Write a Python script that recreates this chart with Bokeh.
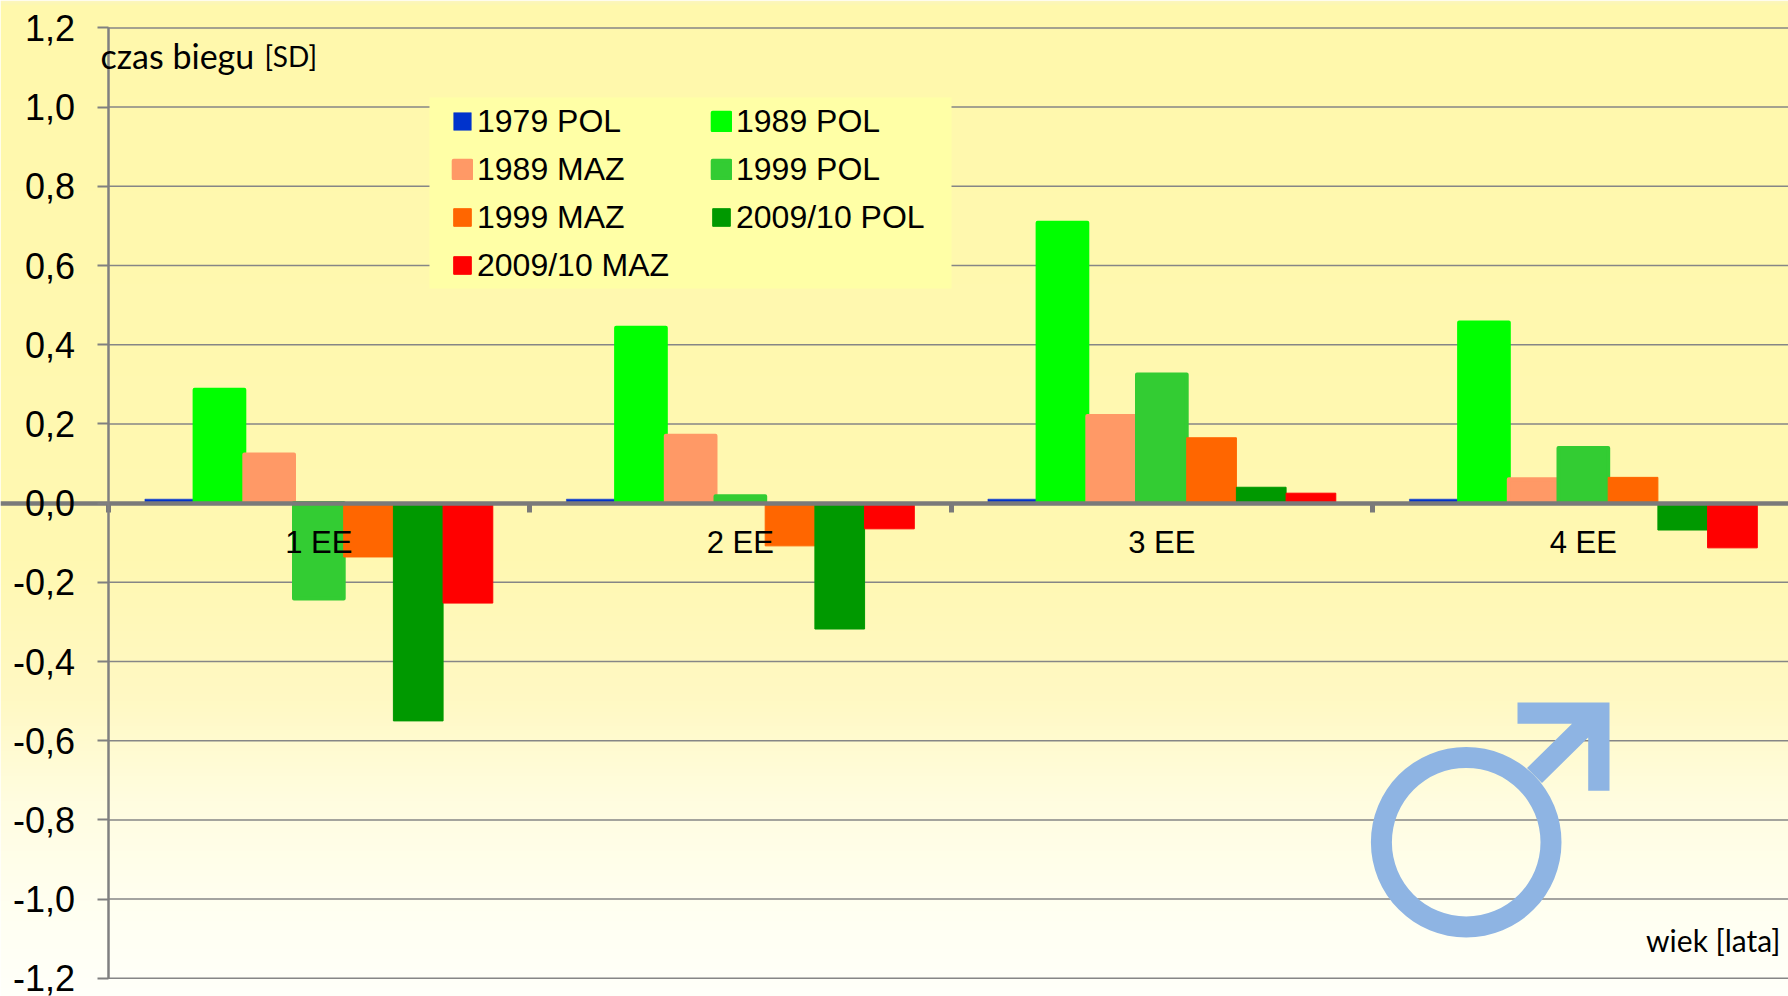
import numpy as np
from bokeh.embed import file_html
from bokeh.resources import INLINE
from bokeh.plotting import figure
from bokeh.models import LinearAxis, FixedTicker, Legend, LegendItem, Range1d, Label, ColumnDataSource

categories = ["1 EE", "2 EE", "3 EE", "4 EE"]
series_names = ["1979 POL", "1989 POL", "1989 MAZ", "1999 POL", "1999 MAZ", "2009/10 POL", "2009/10 MAZ"]
series_colors = ["#0033CC", "#00FF00", "#FF9966", "#33CC33", "#FF6600", "#009900", "#FF0000"]
series_border = [0.5, 4, 4, 4, 1, 1, 1]
v_1979_pol = [0.01, 0.01, 0.01, 0.01]
v_1989_pol = [0.286, 0.443, 0.708, 0.456]
v_1989_maz = [0.123, 0.170, 0.220, 0.060]
v_1999_pol = [-0.241, 0.017, 0.325, 0.139]
v_1999_maz = [-0.136, -0.108, 0.165, 0.065]
v_2009_pol = [-0.55, -0.318, 0.04, -0.068]
v_2009_maz = [-0.2525, -0.065, 0.025, -0.113]
series_values = [v_1979_pol, v_1989_pol, v_1989_maz, v_1999_pol, v_1999_maz, v_2009_pol, v_2009_maz]
y_ticks = [-1.2, -1.0, -0.8, -0.6, -0.4, -0.2, 0.0, 0.2, 0.4, 0.6, 0.8, 1.0, 1.2]
y_labels = ["-1,2", "-1,0", "-0,8", "-0,6", "-0,4", "-0,2", "0,0", "0,2", "0,4", "0,6", "0,8", "1,0", "1,2"]

W, H = 1788, 996
X0, PX_PER_CAT = 107.6, 421.5
Y0, PX_PER_UNIT = 502.6, 396.0


def dx(px):
    return (px - X0) / PX_PER_CAT


def dy(py):
    return (Y0 - py) / PX_PER_UNIT


p = figure(width=W, height=H, output_backend="svg", toolbar_location=None,
           x_range=Range1d(dx(0), dx(W)), y_range=Range1d(dy(H), dy(0)),
           x_axis_type=None, y_axis_type=None, min_border=0,
           outline_line_color=None, background_fill_color="#FFFFFF",
           border_fill_color="#FFFFFF")
p.grid.visible = False

# background gradient
stops_y = [0, 3, 5, 560, 700, 800, 900, 996]
stops_c = [(252, 246, 190), (252, 247, 180), (255, 249, 172), (255, 248, 178),
           (255, 249, 196), (255, 253, 224), (255, 255, 240), (255, 255, 250)]
rows = np.arange(H)
img = np.zeros((H, 1), dtype=np.uint32)
view = img.view(np.uint8).reshape((H, 1, 4))
for c in range(3):
    view[:, 0, c] = np.interp(H - 1 - rows, stops_y, [s[c] for s in stops_c]).astype(np.uint8)
view[:, 0, 3] = 255
p.image_rgba(image=[img], x=dx(0), y=dy(H), dw=dx(W) - dx(0), dh=dy(0) - dy(H), level="image")

# gridlines
grid_src = ColumnDataSource(dict(y=[t for t in y_ticks if t != 0.0]))
p.segment(x0=0, x1=dx(W), y0="y", y1="y", source=grid_src, line_color="#868686", line_width=1.5)

# legend panel
p.quad(left=dx(429), right=dx(951), top=dy(97), bottom=dy(288), fill_color="#FFFFA6", line_color=None)

# bars
bar_w = 0.1179
cat_centers = np.arange(len(categories)) + 0.5
renderers = []
for i, (vals, col, lw) in enumerate(zip(series_values, series_colors, series_border)):
    r = p.vbar(x=cat_centers + (i - 3) * bar_w, top=vals, bottom=0, width=bar_w,
               fill_color=col, line_color=col, line_width=lw, line_join="round")
    renderers.append(r)

# male symbol
SYM = "#8EB4E3"
p.annulus(x=[dx(1465.7)], y=[dy(841.7)], inner_radius=74.3, outer_radius=95.3,
          inner_radius_units="screen", outer_radius_units="screen",
          fill_color=SYM, line_color=None)
arrow_x = [1517, 1609, 1609, 1587.7, 1587.7, 1541.5, 1526.5, 1571.5, 1517]
arrow_y = [702, 702, 790.3, 790.3, 737, 782.5, 767.5, 723.3, 723.3]
p.patch(x=[dx(v) for v in arrow_x], y=[dy(v) for v in arrow_y], fill_color=SYM, line_color=None)

# y axis
yax = LinearAxis(ticker=FixedTicker(ticks=y_ticks), fixed_location=0, bounds=(-1.2, 1.2))
yax.major_label_overrides = dict(zip(y_ticks, y_labels))
yax.major_label_text_font = "Liberation Sans"
yax.major_label_text_font_size = "36px"
yax.major_label_text_color = "#000000"
yax.major_label_standoff = 22
yax.major_tick_out = 11
yax.major_tick_in = 0
yax.minor_tick_line_color = None
yax.axis_line_color = "#808080"
yax.axis_line_width = 2.5
yax.major_tick_line_color = "#808080"
yax.major_tick_line_width = 2
p.add_layout(yax, "left")

# x axis
xax = LinearAxis(ticker=FixedTicker(ticks=list(cat_centers), minor_ticks=[0, 1, 2, 3]),
                 fixed_location=0)
xax.major_label_overrides = {float(c): n for c, n in zip(cat_centers, categories)}
xax.major_label_text_font = "Liberation Sans"
xax.major_label_text_font_size = "31px"
xax.major_label_text_color = "#000000"
xax.major_label_standoff = 13
xax.major_tick_line_color = None
xax.major_tick_out = 0
xax.major_tick_in = 0
xax.minor_tick_line_color = "#7A7A7A"
xax.minor_tick_line_width = 5
xax.minor_tick_out = 9
xax.minor_tick_in = 0
xax.axis_line_color = "#7A7A7A"
xax.axis_line_width = 4.7
p.add_layout(xax, "below")

# legend
legend = Legend(items=[LegendItem(label=n, renderers=[r]) for n, r in zip(series_names, renderers)],
                location=(451, H - 289), ncols=2, orientation="horizontal",
                glyph_width=22, glyph_height=22, label_standoff=4, label_width=233, label_height=48,
                spacing=0, padding=0, margin=0, background_fill_alpha=0, border_line_color=None,
                label_text_font="Liberation Sans", label_text_font_size="32px", label_text_color="#000000")
p.add_layout(legend, "center")

# annotations
p.add_layout(Label(x=dx(100), y=dy(55), text="czas biegu", text_font="Lato", text_font_size="34px",
                   text_color="#000000", text_baseline="alphabetic"))
p.add_layout(Label(x=dx(264), y=dy(55), text="[SD]", text_font="Lato", text_font_size="28px",
                   text_color="#000000", text_baseline="alphabetic"))
p.add_layout(Label(x=dx(1780), y=dy(939), text="wiek [lata]", text_font="Lato", text_font_size="30px",
                   text_color="#000000", text_align="right", text_baseline="alphabetic"))

open("out.html", "w").write(file_html(p, INLINE))
